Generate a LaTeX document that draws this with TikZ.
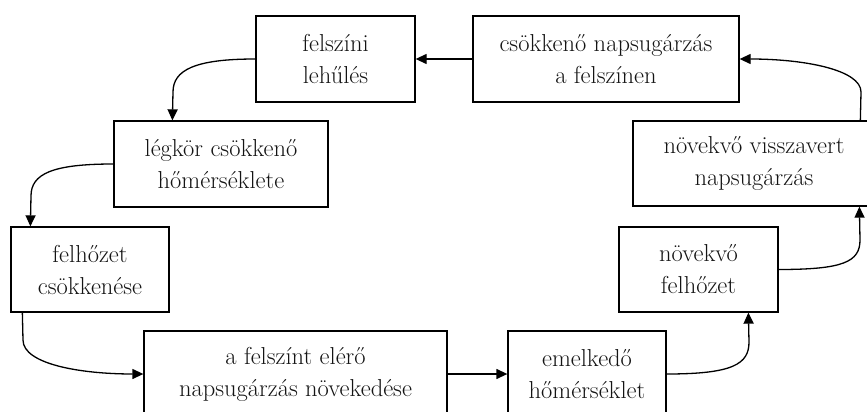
\documentclass[tikz,border=0pt]{standalone}
\usetikzlibrary{arrows.meta,calc}
\definecolor{ink}{RGB}{20,20,20}
\begin{document}
\begin{tikzpicture}[x=1pt,y=-1pt,
  box/.style={draw=black, line width=1.3pt, inner sep=0pt, align=center,
    font=\fontsize{24.5}{32}\selectfont, text=ink},
  link/.style={draw=black, line width=1.3pt, -{Triangle[length=11pt,width=10pt]}},
]
\useasboundingbox (0,0) rectangle (867,412);
\clip (0,0) rectangle (867,412);

% boxes of the feedback loop
\node[box, minimum width=159pt, minimum height=86pt] (b1) at (335.5,59) {felszíni\\lehűlés};
\node[box, minimum width=266pt, minimum height=86pt] (b2) at (606,59) {csökkenő napsugárzás\\a felszínen};
\node[box, minimum width=214pt, minimum height=86pt] (b3) at (221,164) {légkör csökkenő\\hőmérséklete};
\node[box, minimum width=242pt, minimum height=85pt] (b4) at (754,163.5) {növekvő visszavert\\napsugárzás};
\node[box, minimum width=158pt, minimum height=85pt] (b5) at (90,269.5) {felhőzet\\csökkenése};
\node[box, minimum width=159pt, minimum height=85pt] (b7) at (698.5,269.5) {növekvő\\felhőzet};
\node[box, minimum width=303pt, minimum height=86pt] (b6) at (295.5,374) {a felszínt elérő\\napsugárzás növekedése};
\node[box, minimum width=158pt, minimum height=86pt] (b8) at (587,374) {emelkedő\\hőmérséklet};

% connectors
\draw[link] (b2.west) -- (b1.east);
\draw[link] (b1.west) .. controls (195,59) and (173,70) .. (173,92) -- ([xshift=59pt]b3.north west);
\draw[link] (b3.west) .. controls (52,164) and (31,174) .. (31,196) -- ([xshift=20pt]b5.north west);
\draw[link] ([xshift=12pt]b5.south west) -- (23,340) .. controls (23,364) and (80,374) .. (b6.west);
\draw[link] (b6.east) -- (b8.west);
\draw[link] (b8.east) .. controls (733,374) and (749,364) .. (749,342) -- ([xshift=130pt]b7.south west);
\draw[link] (b7.east) .. controls (843,269.5) and (860,262) .. (860,240) -- ([xshift=227pt]b4.south west);
\draw[link] ([xshift=228pt]b4.north west) -- (861,92) .. controls (861,70) and (805,59) .. (b2.east);
\end{tikzpicture}
\end{document}
